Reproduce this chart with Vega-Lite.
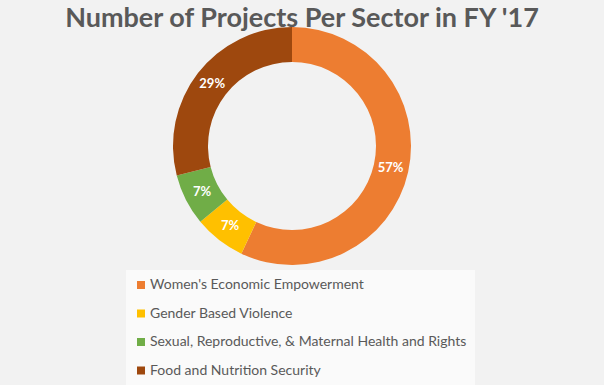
{
  "$schema": "https://vega.github.io/schema/vega-lite/v6.json",
  "width": 584,
  "height": 238,
  "autosize": {"type": "none"},
  "padding": {"left": 0, "top": 27, "right": 20, "bottom": 120},
  "background": "#f2f2f2",
  "title": {
    "text": "Number of Projects Per Sector in FY '17",
    "font": "Lato",
    "fontSize": 27,
    "fontWeight": "bold",
    "color": "#595959",
    "anchor": "middle",
    "dx": 10,
    "offset": -6
  },
  "data": {
    "values": [
      {"sector": "Women's Economic Empowerment", "share": 0.57, "order": 1},
      {"sector": "Gender Based Violence", "share": 0.07, "order": 2},
      {"sector": "Sexual, Reproductive, & Maternal Health and Rights", "share": 0.07, "order": 3},
      {"sector": "Food and Nutrition Security", "share": 0.29, "order": 4}
    ]
  },
  "encoding": {
    "theta": {"field": "share", "type": "quantitative", "stack": true},
    "order": {"field": "order", "type": "quantitative"}
  },
  "layer": [
    {
      "mark": {"type": "arc", "innerRadius": 84, "outerRadius": 119, "strokeWidth": 0},
      "encoding": {
        "color": {
          "field": "sector",
          "type": "nominal",
          "sort": ["Women's Economic Empowerment", "Gender Based Violence", "Sexual, Reproductive, & Maternal Health and Rights", "Food and Nutrition Security"],
          "scale": {
            "domain": ["Women's Economic Empowerment", "Gender Based Violence", "Sexual, Reproductive, & Maternal Health and Rights", "Food and Nutrition Security"],
            "range": ["#ED7D31", "#FFC000", "#70AD47", "#9E480E"]
          },
          "legend": {
            "orient": "none",
            "legendX": 126,
            "legendY": 243,
            "title": null,
            "symbolType": "square",
            "symbolSize": 64,
            "symbolStrokeWidth": 0,
            "labelFont": "Lato",
            "labelFontSize": 14,
            "labelColor": "#595959",
            "labelLimit": 400,
            "rowPadding": 14.5,
            "padding": 8,
            "fillColor": "#fafafa",
            "labelOffset": 2
          }
        }
      }
    },
    {
      "mark": {"type": "text", "radius": 101, "font": "Lato", "fontSize": 13, "fontWeight": "bold", "fill": "#ffffff"},
      "encoding": {
        "text": {"field": "share", "type": "quantitative", "format": ".0%"}
      }
    }
  ],
  "config": {"view": {"stroke": null}}
}
